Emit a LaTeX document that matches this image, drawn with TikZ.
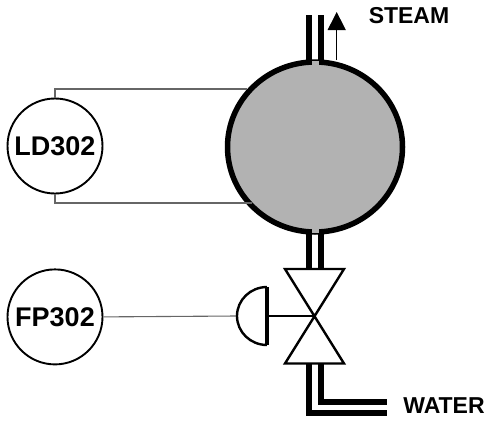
\documentclass[tikz,border=0pt]{standalone}
\usepackage{fontspec}
\setmainfont{Liberation Sans}
\usetikzlibrary{arrows.meta, shapes.geometric, positioning}

\begin{document}
\begin{tikzpicture}[x=1pt, y=-1pt, >={Triangle[width=18pt,length=18pt]}]
    % Style definitions
    \tikzset{instr/.style={draw, circle, fill=white, line width=1.9pt, minimum size=95pt, inner sep=0pt, font=\fontsize{27}{27}\selectfont\bfseries}}
    \tikzset{tag/.style={font=\fontsize{23}{23}\selectfont\bfseries}}
    \tikzset{signal/.style={draw=black!60, line width=1.1pt}}
    \tikzset{pipe/.style={line width=5.5pt}}
    \tikzset{stem/.style={line width=2.4pt}}
    \definecolor{drumgray}{gray}{0.70}

    \useasboundingbox (0,0) rectangle (487,423);

    % Nodes
    \node [instr] (ld) at (55,146) {LD302};
    \node [instr, below=74pt of ld] (fp) {FP302};
    \node [draw, ellipse, fill=drumgray, line width=5.5pt, minimum width=175pt, minimum height=170pt, inner sep=0pt] (drum) at (315,147) {};
    \node [tag] (steam) at (409,16) {STEAM};
    \node [tag] (water) at (444,406) {WATER};

    % Connection points
    \coordinate (tapup) at (247,89);
    \coordinate (tapdown) at (252,203);
    \coordinate (topl) at (309,15);
    \coordinate (topr) at (321,15);
    \coordinate (vc) at (314.5,316);
    \coordinate (vtl) at (285,269);
    \coordinate (vtr) at (344,269);
    \coordinate (vbl) at (285,363.5);
    \coordinate (vbr) at (344,363.5);
    \coordinate (outl) at (386.5,413);
    \coordinate (outr) at (386.5,402);
    \coordinate (actup) at (267,287);
    \coordinate (actdown) at (267,345);
    \coordinate (actnose) at (237,316);
    \coordinate (actroot) at (267,316);

    % Signal lines
    \draw [signal] (ld.north) |- (tapup);
    \draw [signal] (ld.south) |- (tapdown);
    \draw [signal] (fp.east) -- (actnose);

    % Pipes
    \draw [pipe] (topl) -- (309,62);
    \draw [pipe] (topr) -- (321,62);
    \draw [pipe] (309,231) -- (309,269);
    \draw [pipe] (321,231) -- (321,269);
    \draw [pipe] (309,363.5) -- (309,413) -- (outl);
    \draw [pipe] (321,363.5) -- (321,402) -- (outr);
    \draw [line width=7pt, draw=drumgray] (315,61) -- (315,67);
    \draw [line width=7pt, draw=drumgray] (315,227) -- (315,233);

    % Steam arrow
    \draw [->, line width=1pt] (336.7,60) -- (336.7,12);

    % Valve
    \draw [stem, fill=white, line join=miter] (vtl) -- (vtr) -- (vbl) -- (vbr) -- cycle;
    \draw [stem, fill=white] (actup) .. controls (250.4,287) and (237,300) .. (actnose) .. controls (237,332) and (250.4,345) .. (actdown);
    \draw [line width=3.4pt] (actup) -- (actdown);
    \draw [stem] (actroot) -- (vc);
\end{tikzpicture}
\end{document}
